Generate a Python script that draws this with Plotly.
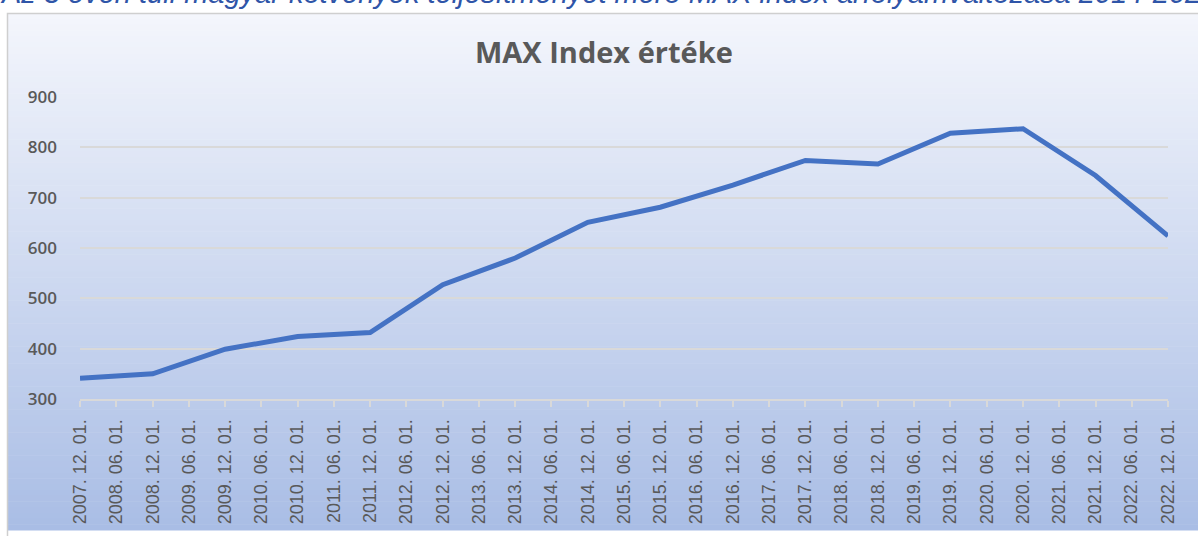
import plotly.graph_objects as go

# ---- data ----
point_dates = ["2007-12-01", "2008-12-01", "2009-12-01", "2010-12-01", "2011-12-01",
               "2012-12-01", "2013-12-01", "2014-12-01", "2015-12-01", "2016-12-01",
               "2017-12-01", "2018-12-01", "2019-12-01", "2020-12-01", "2021-12-01",
               "2022-12-01"]
max_index = [341, 350, 399, 424, 432, 527, 580, 651, 681, 725, 774, 767, 828, 837, 744, 624]

tick_dates = ["2007-12-01", "2008-06-01", "2008-12-01", "2009-06-01", "2009-12-01",
              "2010-06-01", "2010-12-01", "2011-06-01", "2011-12-01", "2012-06-01",
              "2012-12-01", "2013-06-01", "2013-12-01", "2014-06-01", "2014-12-01",
              "2015-06-01", "2015-12-01", "2016-06-01", "2016-12-01", "2017-06-01",
              "2017-12-01", "2018-06-01", "2018-12-01", "2019-06-01", "2019-12-01",
              "2020-06-01", "2020-12-01", "2021-06-01", "2021-12-01", "2022-06-01",
              "2022-12-01"]
tick_labels = ["2007. 12. 01.", "2008. 06. 01.", "2008. 12. 01.", "2009. 06. 01.", "2009. 12. 01.",
               "2010. 06. 01.", "2010. 12. 01.", "2011. 06. 01.", "2011. 12. 01.", "2012. 06. 01.",
               "2012. 12. 01.", "2013. 06. 01.", "2013. 12. 01.", "2014. 06. 01.", "2014. 12. 01.",
               "2015. 06. 01.", "2015. 12. 01.", "2016. 06. 01.", "2016. 12. 01.", "2017. 06. 01.",
               "2017. 12. 01.", "2018. 06. 01.", "2018. 12. 01.", "2019. 06. 01.", "2019. 12. 01.",
               "2020. 06. 01.", "2020. 12. 01.", "2021. 06. 01.", "2021. 12. 01.", "2022. 06. 01.",
               "2022. 12. 01."]
y_ticks = [300, 400, 500, 600, 700, 800, 900]

chart_title = "MAX Index értéke"
page_heading = "Az 5 éven túli magyar kötvények teljesítményét mérő MAX index árfolyamváltozása 2014-2022"

# ---- layout geometry (pixels) ----
W, H = 1198, 536
L, R, T, B = 80, 30, 97, 130
PW = W - L - R
PH = H - T - B


def px_x(p):
    return (p - L) / PW


def px_y(p):
    return (H - B - p) / PH


def hex2rgb(h):
    h = h.lstrip("#")
    return tuple(int(h[i:i + 2], 16) for i in (0, 2, 4))


top_c = hex2rgb("#f4f6fc")
bot_c = hex2rgb("#a9bde5")

shapes = []
N = 90
y0p, y1p = 11, 540
for i in range(N):
    a = y0p + (y1p - y0p) * i / N
    b = y0p + (y1p - y0p) * (i + 1) / N
    f = (i + 0.5) / N
    c = tuple(round(top_c[k] + (bot_c[k] - top_c[k]) * f) for k in range(3))
    shapes.append(dict(type="rect", xref="paper", yref="paper", layer="below",
                       x0=px_x(7), x1=px_x(1205), y0=px_y(b + 0.5), y1=px_y(a),
                       line=dict(width=0), fillcolor="rgb(%d,%d,%d)" % c))
shapes.append(dict(type="rect", xref="paper", yref="paper", layer="below",
                   x0=px_x(7.5), x1=px_x(1210), y0=px_y(560), y1=px_y(11.5),
                   line=dict(width=1.5, color="#cfcfcf"), fillcolor="rgba(0,0,0,0)"))

fig = go.Figure()
fig.add_trace(go.Scatter(x=point_dates, y=max_index, mode="lines",
                         line=dict(color="#4472c4", width=5),
                         hoverinfo="x+y", showlegend=False))

fig.update_layout(
    width=W, height=H,
    margin=dict(l=L, r=R, t=T, b=B),
    paper_bgcolor="white",
    plot_bgcolor="rgba(0,0,0,0)",
    shapes=shapes,
    showlegend=False,
    annotations=[
        dict(text="<b>" + chart_title + "</b>", xref="paper", yref="paper",
             x=px_x(604), y=px_y(50), xanchor="center", yanchor="middle",
             showarrow=False, font=dict(family="Open Sans", size=29, color="#595959")),
        dict(text="<i>" + page_heading + "</i>", xref="paper", yref="paper",
             x=px_x(-2), y=px_y(9), xanchor="left", yanchor="bottom",
             showarrow=False, font=dict(family="Liberation Sans", size=29, color="#2f55a8")),
    ],
    xaxis=dict(
        type="date",
        range=[tick_dates[0], tick_dates[-1]],
        tickmode="array", tickvals=tick_dates, ticktext=tick_labels,
        tickangle=-90,
        tickfont=dict(family="Liberation Sans", size=18, color="#595959"),
        showgrid=False, zeroline=False,
        showline=True, linecolor="#d9d9d9", linewidth=2,
        ticks="outside", ticklen=6, tickcolor="#d9d9d9", tickwidth=2,
        ticklabelstandoff=5,
        fixedrange=True,
    ),
    yaxis=dict(
        range=[300, 900],
        tickmode="array", tickvals=y_ticks,
        tickfont=dict(family="Open Sans", size=17, color="#595959", weight=600),
        showgrid=True, gridcolor="#d9d9d9", gridwidth=1.5,
        zeroline=False, showline=False,
        ticks="", ticklabelstandoff=22,
        fixedrange=True,
    ),
)

fig.write_html("out.html", config={"displayModeBar": False},
               post_script="document.body.style.margin='0';")
